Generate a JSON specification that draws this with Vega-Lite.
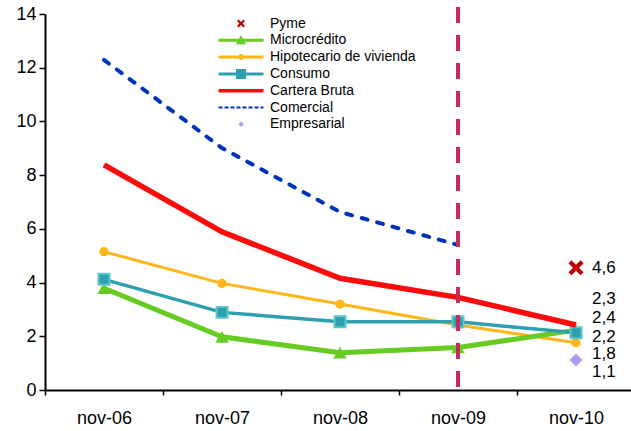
{
  "$schema": "https://vega.github.io/schema/vega-lite/v6.json",
  "autosize": "none",
  "padding": {"left": 45, "top": 14, "right": 0, "bottom": 41},
  "width": 586,
  "height": 376,
  "background": "white",
  "config": {
    "view": {"stroke": null},
    "font": "Liberation Sans",
    "axis": {"labelFont": "Liberation Sans", "labelFontSize": 18, "labelColor": "#000", "domainColor": "#000", "tickColor": "#000", "grid": false, "title": null}
  },
  "datasets": {
    "series": [
      {"serie": "Comercial", "fecha": "nov-06", "valor": 12.29},
      {"serie": "Comercial", "fecha": "nov-07", "valor": 9.01},
      {"serie": "Comercial", "fecha": "nov-08", "valor": 6.63},
      {"serie": "Comercial", "fecha": "nov-09", "valor": 5.4},
      {"serie": "Hipotecario de vivienda", "fecha": "nov-06", "valor": 5.15},
      {"serie": "Hipotecario de vivienda", "fecha": "nov-07", "valor": 3.97},
      {"serie": "Hipotecario de vivienda", "fecha": "nov-08", "valor": 3.2},
      {"serie": "Hipotecario de vivienda", "fecha": "nov-09", "valor": 2.42},
      {"serie": "Hipotecario de vivienda", "fecha": "nov-10", "valor": 1.76},
      {"serie": "Microcrédito", "fecha": "nov-06", "valor": 3.79},
      {"serie": "Microcrédito", "fecha": "nov-07", "valor": 1.98},
      {"serie": "Microcrédito", "fecha": "nov-08", "valor": 1.39},
      {"serie": "Microcrédito", "fecha": "nov-09", "valor": 1.58},
      {"serie": "Microcrédito", "fecha": "nov-10", "valor": 2.23},
      {"serie": "Consumo", "fecha": "nov-06", "valor": 4.12},
      {"serie": "Consumo", "fecha": "nov-07", "valor": 2.89},
      {"serie": "Consumo", "fecha": "nov-08", "valor": 2.54},
      {"serie": "Consumo", "fecha": "nov-09", "valor": 2.54},
      {"serie": "Consumo", "fecha": "nov-10", "valor": 2.13},
      {"serie": "Cartera Bruta", "fecha": "nov-06", "valor": 8.38},
      {"serie": "Cartera Bruta", "fecha": "nov-07", "valor": 5.89},
      {"serie": "Cartera Bruta", "fecha": "nov-08", "valor": 4.16},
      {"serie": "Cartera Bruta", "fecha": "nov-09", "valor": 3.45},
      {"serie": "Cartera Bruta", "fecha": "nov-10", "valor": 2.42},
      {"serie": "Pyme", "fecha": "nov-10", "valor": 4.55},
      {"serie": "Empresarial", "fecha": "nov-10", "valor": 1.12}
    ],
    "etiquetas": [
      {"fecha": "nov-10", "texto": "4,6", "nivel": 4.55},
      {"fecha": "nov-10", "texto": "2,3", "nivel": 3.39},
      {"fecha": "nov-10", "texto": "2,4", "nivel": 2.68},
      {"fecha": "nov-10", "texto": "2,2", "nivel": 1.99},
      {"fecha": "nov-10", "texto": "1,8", "nivel": 1.34},
      {"fecha": "nov-10", "texto": "1,1", "nivel": 0.67}
    ],
    "corte": [
      {"fecha": "nov-09", "desde": 14.26, "hasta": 0}
    ]
  },
  "layer": [
    {
      "data": {"name": "series"},
      "encoding": {
        "x": {
          "field": "fecha", "type": "nominal", "sort": null,
          "scale": {"domain": ["nov-06", "nov-07", "nov-08", "nov-09", "nov-10"], "range": [0, 590], "paddingInner": 0, "paddingOuter": 0},
          "axis": {"labelAngle": 0, "tickBand": "extent", "tickSize": 5, "tickWidth": 1.5, "domainWidth": 2, "labelPadding": 14}
        },
        "y": {
          "field": "valor", "type": "quantitative",
          "scale": {"domain": [0, 14], "nice": false, "zero": true},
          "axis": {"values": [0, 2, 4, 6, 8, 10, 12, 14], "tickSize": 6, "tickWidth": 1.5, "domainWidth": 2, "labelPadding": 3}
        },
        "color": {
          "field": "serie", "type": "nominal",
          "scale": {
            "domain": ["Pyme", "Microcrédito", "Hipotecario de vivienda", "Consumo", "Cartera Bruta", "Comercial", "Empresarial"],
            "range": ["#C00000", "#66CC22", "#FFB619", "#2E9FAE", "#FF0A0A", "#0033BB", "#A99EF7"]
          },
          "legend": {
            "orient": "none", "legendX": 189, "legendY": 2.5, "title": null,
            "symbolSize": 100, "labelFont": "Liberation Sans", "labelFontSize": 14, "labelColor": "#000",
            "labelOffset": 22, "rowPadding": 2.8, "symbolStrokeWidth": 0,
            "encode": {
              "symbols": {
                "update": {
                  "shape": {"signal": "datum.value === 'Pyme' ? 'M-0.8,-0.48L-0.48,-0.8L0,-0.32L0.48,-0.8L0.8,-0.48L0.32,0L0.8,0.48L0.48,0.8L0,0.32L-0.48,0.8L-0.8,0.48L-0.32,0Z' : datum.value === 'Microcrédito' ? 'M-4.5,-0.3H4.5V0.3H-4.5Z M-1.05,0.8L0,-1L1.05,0.8Z' : datum.value === 'Hipotecario de vivienda' ? 'M-4.5,-0.3H4.5V0.3H-4.5Z M-0.6,0A0.6,0.6,0,1,1,0.6,0A0.6,0.6,0,1,1,-0.6,0Z' : datum.value === 'Consumo' ? 'M-4.5,-0.3H4.5V0.3H-4.5Z M-1,-1H1V1H-1Z' : datum.value === 'Cartera Bruta' ? 'M-4.5,-0.35H4.5V0.35H-4.5Z' : datum.value === 'Comercial' ? 'M-4.5,-0.2h0.8v0.4h-0.8Z M-3.3,-0.2h0.8v0.4h-0.8Z M-2.1,-0.2h0.8v0.4h-0.8Z M-0.9,-0.2h0.8v0.4h-0.8Z M0.3,-0.2h0.8v0.4h-0.8Z M1.5,-0.2h0.8v0.4h-0.8Z M2.7,-0.2h0.8v0.4h-0.8Z M3.9,-0.2h0.6v0.4h-0.6Z' : 'M0,-0.55L0.55,0L0,0.55L-0.55,0Z'"},
                  "fill": {"signal": "scale('color', datum.value)"},
                  "stroke": {"value": "transparent"},
                  "strokeWidth": {"value": 0},
                  "opacity": {"value": 1},
                  "fillOpacity": {"value": 1}
                }
              }
            }
          }
        }
      },
      "layer": [
        {
          "transform": [{"filter": "datum.serie === 'Comercial'"}],
          "mark": {"type": "line", "strokeWidth": 4, "strokeDash": [6, 10], "strokeCap": "round"}
        },
        {
          "transform": [{"filter": "datum.serie === 'Hipotecario de vivienda'"}],
          "mark": {"type": "line", "strokeWidth": 3}
        },
        {
          "transform": [{"filter": "datum.serie === 'Hipotecario de vivienda'"}],
          "mark": {"type": "point", "shape": "circle", "filled": true, "size": 85, "opacity": 1}
        },
        {
          "transform": [{"filter": "datum.serie === 'Microcrédito'"}],
          "mark": {"type": "line", "strokeWidth": 5}
        },
        {
          "transform": [{"filter": "datum.serie === 'Microcrédito'"}],
          "mark": {"type": "point", "shape": "triangle-up", "filled": true, "size": 180, "opacity": 1}
        },
        {
          "transform": [{"filter": "datum.serie === 'Consumo'"}],
          "mark": {"type": "line", "strokeWidth": 3.5}
        },
        {
          "transform": [{"filter": "datum.serie === 'Consumo'"}],
          "mark": {"type": "point", "shape": "square", "filled": true, "size": 120, "opacity": 1, "stroke": "#5CC6CE", "strokeWidth": 2}
        },
        {
          "transform": [{"filter": "datum.serie === 'Cartera Bruta'"}],
          "mark": {"type": "line", "strokeWidth": 5.5}
        },
        {
          "transform": [{"filter": "datum.serie === 'Pyme'"}],
          "mark": {"type": "point", "shape": "M-1,-0.6L-0.6,-1L0,-0.4L0.6,-1L1,-0.6L0.4,0L1,0.6L0.6,1L0,0.4L-0.6,1L-1,0.6L-0.4,0Z", "filled": true, "size": 225, "opacity": 1}
        },
        {
          "transform": [{"filter": "datum.serie === 'Empresarial'"}],
          "mark": {"type": "point", "shape": "diamond", "filled": true, "size": 169, "opacity": 1}
        }
      ]
    },
    {
      "data": {"name": "corte"},
      "mark": {"type": "rule", "color": "#C8285A", "strokeWidth": 4, "strokeDash": [16, 12]},
      "encoding": {
        "x": {"field": "fecha", "type": "nominal"},
        "y": {"field": "desde", "type": "quantitative"},
        "y2": {"field": "hasta"}
      }
    },
    {
      "data": {"name": "etiquetas"},
      "mark": {"type": "text", "align": "left", "baseline": "middle", "dx": 16, "fontSize": 17, "font": "Liberation Sans", "color": "#000"},
      "encoding": {
        "x": {"field": "fecha", "type": "nominal"},
        "y": {"field": "nivel", "type": "quantitative"},
        "text": {"field": "texto"}
      }
    }
  ]
}
